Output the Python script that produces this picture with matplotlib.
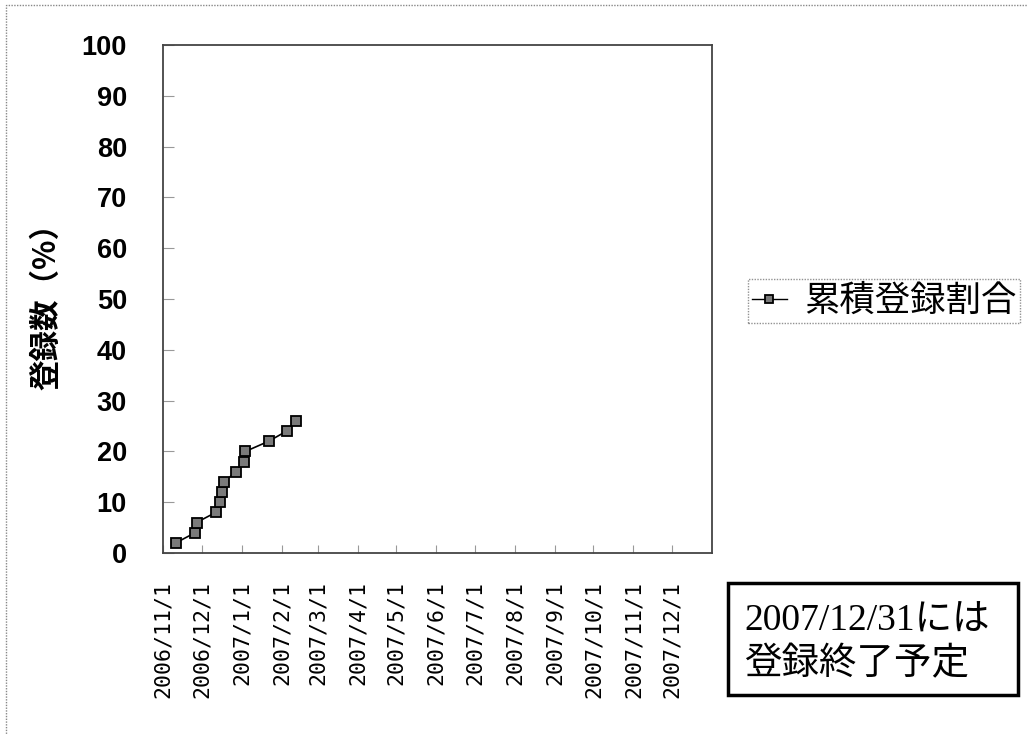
import datetime as dt
import matplotlib
matplotlib.use('Agg')
import matplotlib.pyplot as plt
from matplotlib.patches import Rectangle

# registration dates and cumulative ratio (%)
reg_dates = ['2006-11-11', '2006-11-26', '2006-11-27', '2006-12-12', '2006-12-15',
             '2006-12-17', '2006-12-18', '2006-12-28', '2007-01-03', '2007-01-04',
             '2007-01-22', '2007-02-05', '2007-02-12']
reg_ratio = [2, 4, 6, 8, 10, 12, 14, 16, 18, 20, 22, 24, 26]

month_ticks = ['2006-11-01', '2006-12-01', '2007-01-01', '2007-02-01', '2007-03-01',
               '2007-04-01', '2007-05-01', '2007-06-01', '2007-07-01', '2007-08-01',
               '2007-09-01', '2007-10-01', '2007-11-01', '2007-12-01']
month_labels = ['2006/11/1', '2006/12/1', '2007/1/1', '2007/2/1', '2007/3/1',
                '2007/4/1', '2007/5/1', '2007/6/1', '2007/7/1', '2007/8/1',
                '2007/9/1', '2007/10/1', '2007/11/1', '2007/12/1']
y_ticks = [0, 10, 20, 30, 40, 50, 60, 70, 80, 90, 100]

legend_label = '累積登録割合'
y_label = '登録数（%）'
note_text = '2007/12/31には\n登録終了予定'

jp = ['Noto Sans CJK JP', 'DejaVu Sans']

def d(s):
    return dt.datetime.strptime(s, '%Y-%m-%d')

fig = plt.figure(figsize=(10.28, 7.35), dpi=100)
ax = fig.add_axes([163/1028, 1-553/735, (712-163)/1028, (553-45)/735])

ax.plot([d(s) for s in reg_dates], reg_ratio, '-', color='black', lw=1.2,
        marker='s', markersize=7.5, markerfacecolor='#7a7a7a',
        markeredgecolor='black', markeredgewidth=1.3, label=legend_label)

ax.set_xlim(d('2006-11-01'), d('2008-01-01'))
ax.set_ylim(0, 100)
ax.set_xticks([d(s) for s in month_ticks])
ax.set_xticklabels(month_labels, rotation=90, fontsize=15.5,
                   family=['DejaVu Sans Mono'])
ax.set_yticks(y_ticks)
ax.set_yticklabels([str(v) for v in y_ticks], fontsize=19.5, fontweight='bold',
                   family=['Liberation Sans'])
ax.tick_params(axis='y', direction='in', length=8, color='#999999', pad=26)
ax.tick_params(axis='x', direction='in', length=6, color='#999999', pad=20)
for sp in ax.spines.values():
    sp.set_color('#444444')
    sp.set_linewidth(1.3)

ax.set_ylabel(y_label, fontsize=22, fontweight='bold', family=jp, labelpad=14)

leg = fig.legend(loc='center left', bbox_to_anchor=(748/1028, 1-301/735),
                 borderaxespad=0, prop={'family': jp, 'size': 25.5},
                 handlelength=1.0, handletextpad=0.5, borderpad=0.1,
                 fancybox=False, edgecolor='#777777')
leg.get_frame().set_linestyle((0, (1, 1)))
leg.get_frame().set_linewidth(1.0)
for h in leg.legend_handles:
    h.set_markersize(6)
    h.set_linewidth(1.0)

# note box
fig.patches.append(Rectangle((728/1028, 1-695/735), 290/1028, 112/735,
                             transform=fig.transFigure, fill=False,
                             edgecolor='black', linewidth=2.5))
fig.text(744/1028, 1-643/735, note_text, fontsize=27, va='center', ha='left',
         family=['Liberation Serif', 'Noto Sans CJK JP'], linespacing=1.35)

# outer frame
fig.patches.append(Rectangle((6/1028, -0.01), 1.02, 1.01 - 5/735,
                             transform=fig.transFigure, fill=False,
                             edgecolor='#888888', linewidth=1.0,
                             linestyle=(0, (1, 1))))

plt.savefig('out.png', dpi=100)
